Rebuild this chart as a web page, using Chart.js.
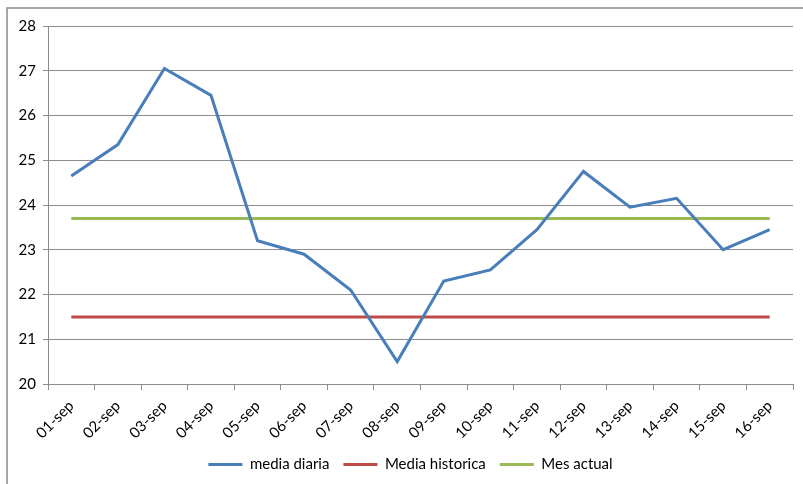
<!DOCTYPE html>
<html>
<head>
<meta charset="utf-8">
<script src="https://cdn.jsdelivr.net/npm/chart.js@4/dist/chart.umd.min.js"></script>
<style>
  html, body { margin: 0; padding: 0; background: #fff; }
  #wrap { position: relative; width: 803px; height: 484px; }
</style>
</head>
<body>
<div id="wrap"><canvas id="chart" width="803" height="484"></canvas></div>
<script>
// Temperatura media diaria, septiembre
const days = ['01-sep','02-sep','03-sep','04-sep','05-sep','06-sep','07-sep','08-sep',
              '09-sep','10-sep','11-sep','12-sep','13-sep','14-sep','15-sep','16-sep'];
const mediaDiaria = [24.65, 25.35, 27.05, 26.45, 23.2, 22.9, 22.1, 20.5,
                     22.3, 22.55, 23.45, 24.75, 23.95, 24.15, 23.0, 23.45];
const mediaHistorica = Array(days.length).fill(21.5);
const mesActual = Array(days.length).fill(23.7);
const yTicks = [20, 21, 22, 23, 24, 25, 26, 27, 28];

const FONT = 'Lato, "Liberation Sans", sans-serif';
const GRID = '#8c8c8c';

// outer frame of the chart object (left and top edges visible)
const framePlugin = {
    id: 'frame',
    afterLayout(chart) {
        // legend sits a bit right of the canvas centre in the original
        chart.legend.left += 14;
        chart.legend.right += 14;
    },
    beforeDraw(chart) {
        const ctx = chart.ctx;
        ctx.save();
        ctx.strokeStyle = '#8a8a8a';
        ctx.lineWidth = 1.5;
        ctx.beginPath();
        ctx.moveTo(7, 484);
        ctx.lineTo(7, 8);
        ctx.lineTo(803, 8);
        ctx.stroke();
        ctx.restore();
    }
};

new Chart(document.getElementById('chart').getContext('2d'), {
    type: 'line',
    data: {
        labels: days,
        datasets: [
            { label: 'media diaria', data: mediaDiaria, borderColor: '#4a7ebb', backgroundColor: '#4a7ebb', borderWidth: 3, pointRadius: 0, tension: 0 },
            { label: 'Media historica', data: mediaHistorica, borderColor: '#be4b48', backgroundColor: '#be4b48', borderWidth: 3, pointRadius: 0 },
            { label: 'Mes actual', data: mesActual, borderColor: '#98b954', backgroundColor: '#98b954', borderWidth: 3, pointRadius: 0 }
        ]
    },
    options: {
        responsive: false,
        animation: false,
        events: [],
        layout: { padding: { left: 0, right: 10, top: 26, bottom: 2 } },
        scales: {
            x: {
                offset: true,
                afterFit: s => { s.height = 59; },
                grid: { offset: true, drawOnChartArea: false, drawTicks: true, tickLength: 6, color: GRID },
                border: { color: GRID },
                ticks: { minRotation: 45, maxRotation: 45, autoSkip: false, padding: 7, color: '#000', font: { family: FONT, size: 15 } }
            },
            y: {
                min: 20, max: 28,
                afterFit: s => { s.width = 48; },
                afterBuildTicks: s => { s.ticks = yTicks.map(v => ({ value: v })); },
                grid: { color: GRID, tickLength: 5, drawTicks: true },
                border: { color: GRID },
                ticks: { padding: 7, color: '#000', font: { family: FONT, size: 15 } }
            }
        },
        plugins: {
            legend: {
                position: 'bottom',
                labels: { usePointStyle: true, pointStyle: 'line', pointStyleWidth: 34, padding: 14, color: '#000', font: { family: FONT, size: 15 } }
            },
            tooltip: { enabled: false }
        }
    },
    plugins: [framePlugin]
});
</script>
</body>
</html>
